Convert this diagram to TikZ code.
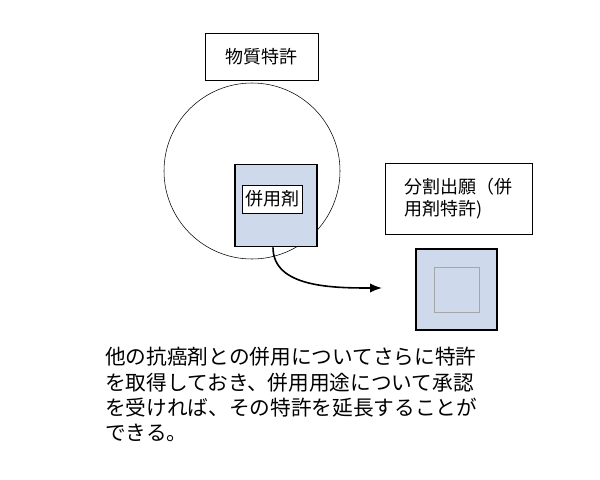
\documentclass[tikz,border=0pt]{standalone}
\usepackage{fontspec}
\setmainfont{Noto Sans CJK JP}
\usetikzlibrary{arrows.meta}
\definecolor{dotblue}{RGB}{206,218,236}
\begin{document}
\begin{tikzpicture}[x=0.75pt,y=-0.75pt,
    label box/.style={draw,fill=white,inner sep=0pt,font=\fontsize{13.5pt}{17pt}\selectfont},
    dotted sq/.style={draw,line width=1.2pt,fill=dotblue},
    note/.style={anchor=north west,inner sep=0pt,align=left,font=\fontsize{15.5pt}{19pt}\selectfont}]
  \useasboundingbox (0,0) rectangle (600,479);
  \draw (252,171) circle (88);
  \node[label box,minimum width=113*0.75pt,minimum height=47*0.75pt] (subst) at (261.5,56.5) {物質特許};
  \node[dotted sq,minimum size=82*0.75pt] (combo) at (276,205.5) {};
  \node[label box,minimum width=60*0.75pt,minimum height=28*0.75pt] (drug) at (272,199) {併用剤};
  \node[label box,minimum width=147*0.75pt,minimum height=71*0.75pt,align=left] (div) at (458.5,198.5) {分割出願（併\\用剤特許)};
  \node[dotted sq,minimum size=81*0.75pt] (newsq) at (456.5,289.5) {};
  \node[draw=gray!70,thin,minimum size=45*0.75pt] (inner) at (newsq) {};
  \draw[-{Latex[length=9pt,width=7pt]},line width=1.2pt] (combo.south) ++(-3,0) coordinate (start)
    .. controls +(0,40) and +(-50,0) .. (382,288) coordinate (tip);
  \node[note] (text) at (105,347) {他の抗癌剤との併用についてさらに特許\\を取得しておき、併用用途について承認\\を受ければ、その特許を延長することが\\できる。};
\end{tikzpicture}
\end{document}
